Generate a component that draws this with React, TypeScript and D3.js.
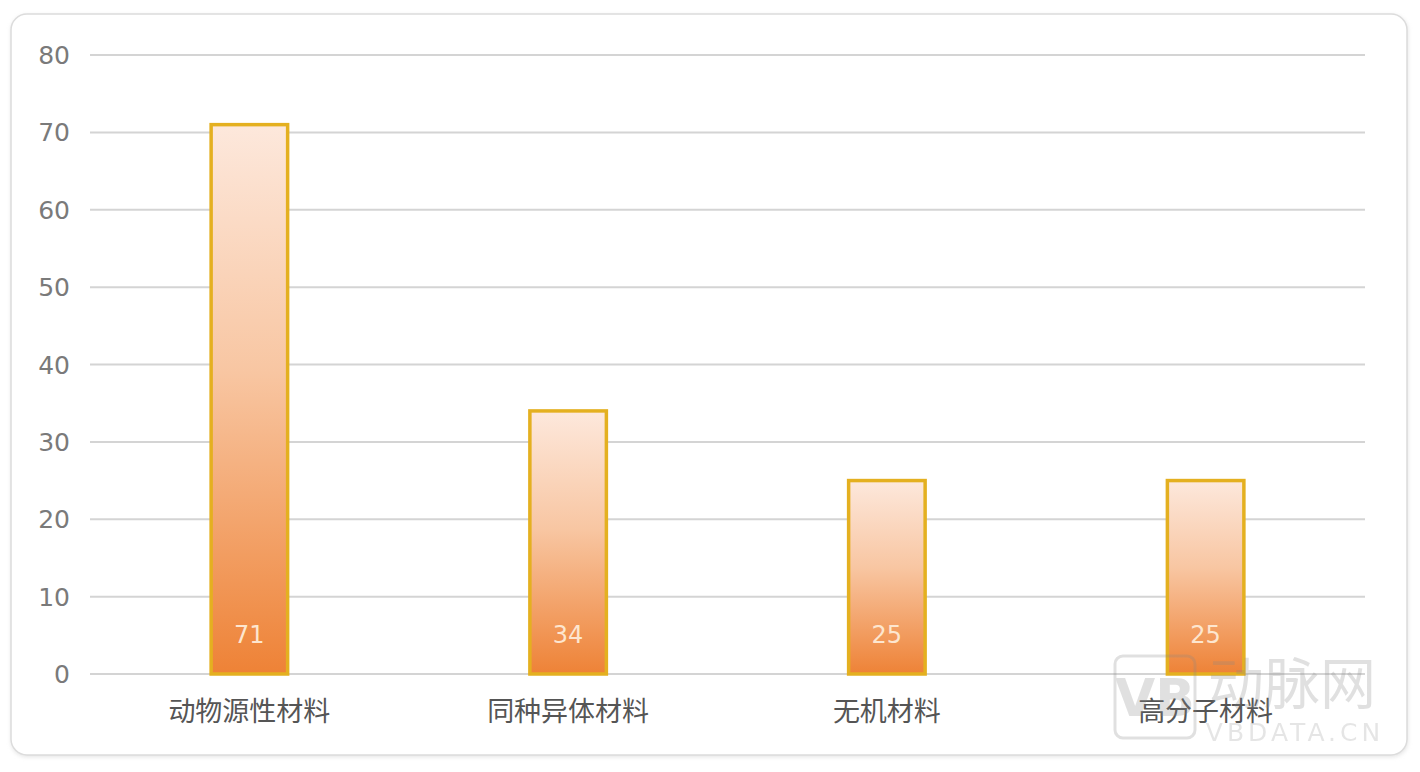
import React from "react";
import * as d3 from "d3";

const categories = ["动物源性材料", "同种异体材料", "无机材料", "高分子材料"];
const values = [71, 34, 25, 25];
const yTicks = [0, 10, 20, 30, 40, 50, 60, 70, 80];

const W = 1420;
const H = 772;
const margin = { left: 90, right: 55, top: 55, bottom: 98 };

export default function App() {
  const x = d3
    .scaleBand<string>()
    .domain(categories)
    .range([margin.left, W - margin.right])
    .paddingInner(0.76)
    .paddingOuter(0.38);
  const y = d3.scaleLinear().domain([0, 80]).range([H - margin.bottom, margin.top]);
  const font = "'Noto Sans CJK SC', 'Noto Sans', sans-serif";
  return (
    <div style={{ position: "fixed", left: 0, top: 0 }}>
      <svg width={W} height={H} style={{ display: "block", background: "#fff" }}>
        <defs>
          <linearGradient id="barGrad" x1="0" y1="0" x2="0" y2="1">
            <stop offset="0%" stopColor="#fde8dc" />
            <stop offset="45%" stopColor="#f8c6a2" />
            <stop offset="100%" stopColor="#ee8236" />
          </linearGradient>
          <filter id="shadow" x="-5%" y="-5%" width="110%" height="110%">
            <feGaussianBlur stdDeviation="2" />
          </filter>
        </defs>
        <rect x={11} y={15} width={1397} height={742} rx={16} fill="#e4e4e4" filter="url(#shadow)" />
        <rect x={11} y={14} width={1396} height={741} rx={16} fill="#fff" stroke="#dcdcdc" strokeWidth={1.5} />
        {yTicks.map((t) => (
          <g key={t}>
            <line x1={margin.left} x2={W - margin.right} y1={y(t)} y2={y(t)} stroke="#d4d4d4" strokeWidth={2} />
            <text x={70} y={y(t)} dy="0.36em" textAnchor="end" fontSize={25} fill="#7a7a7a" fontFamily="'DejaVu Sans', sans-serif">
              {t}
            </text>
          </g>
        ))}
        {categories.map((c, i) => {
          const bx = x(c)!;
          const bw = x.bandwidth();
          return (
            <g key={c}>
              <rect x={bx} y={y(values[i])} width={bw} height={y(0) - y(values[i])} fill="url(#barGrad)" stroke="#e4b020" strokeWidth={3.5} />
              <text x={bx + bw / 2} y={y(0) - 40} dy="0.36em" textAnchor="middle" fontSize={24} fill="#fde6cf" fontFamily="'DejaVu Sans', sans-serif">
                {values[i]}
              </text>
              <text x={bx + bw / 2} y={711} dy="0.36em" textAnchor="middle" fontSize={27} fill="#555" fontFamily={font}>
                {c}
              </text>
            </g>
          );
        })}
        <g opacity={0.25}>
          <rect x={1115} y={656} width={80} height={82} rx={8} fill="none" stroke="#888" strokeWidth={3} />
          <text x={1155} y={697} dy="0.36em" textAnchor="middle" fontSize={52} fontWeight="bold" fill="#888" fontFamily="'DejaVu Sans', sans-serif">VB</text>
          <text x={1292} y={684} dy="0.36em" textAnchor="middle" fontSize={56} fill="#888" fontFamily={font}>动脉网</text>
          <text x={1295} y={732} dy="0.36em" textAnchor="middle" fontSize={25} fill="#999" letterSpacing={4} fontFamily="'DejaVu Sans', sans-serif">VBDATA.CN</text>
        </g>
      </svg>
    </div>
  );
}
